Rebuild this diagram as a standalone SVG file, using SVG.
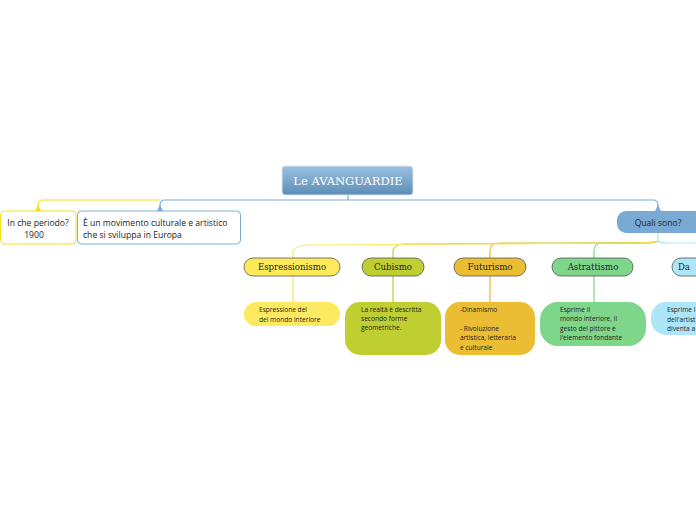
<svg xmlns="http://www.w3.org/2000/svg" width="696" height="520" viewBox="0 0 696 520">
<defs>
<linearGradient id="rootg" x1="0" y1="0" x2="0" y2="1">
<stop offset="0" stop-color="#9cc1df"/>
<stop offset="1" stop-color="#5d8db8"/>
</linearGradient>
</defs>
<style>
.conn{fill:none;stroke-width:1.2}
.l1{fill:#fff;stroke-width:1}
.t1{font-family:"Open Sans","DejaVu Sans",sans-serif;font-size:8.6px;fill:#222}
.l2{stroke:#555;stroke-width:0.8}
.t2{font-family:"DejaVu Serif","Liberation Serif",serif;font-size:8.6px;fill:#222;text-anchor:middle}
.t3{font-family:"Open Sans","DejaVu Sans",sans-serif;font-size:6.6px;fill:#222}
</style>
<rect width="696" height="520" fill="#fff"/>
<g id="connectors">
<path class="conn" stroke="#f7df1e" d="M160,200 L43,200 Q38,200 38,205 L38,208"/>
<path d="M35,211 L41,211 L38,205 Z" fill="#f7df1e"/>
<path class="conn" stroke="#7aaed6" d="M348,195 L348,200 M348,200 L165,200 Q160,200 160,205 L160,208"/>
<path d="M157,211 L163,211 L160,205 Z" fill="#7aaed6"/>
<path class="conn" stroke="#7aaed6" d="M348,200 L653,200 Q658,200 658,205 L658,208"/>
<path d="M655,211 L661,211 L658,205 Z" fill="#7aaed6"/>
<path class="conn" stroke="#aaf0b8" d="M658,233 L658,241"/>
<path class="conn" stroke="#aee6f9" d="M658,241 Q660,243 670,243 L696,243"/>
<path class="conn" stroke="#7ed68a" d="M658,241 Q656,243 640,243 L602,243 Q594,243 594,251 L594,258"/>
<path class="conn" stroke="#e8b830" d="M658,241 Q656,243 630,243 L500,243 Q490,243 490,251 L490,258"/>
<path class="conn" stroke="#c0cf30" d="M658,241 Q656,243 630,243 L403,244 Q393,245 393,252 L393,258"/>
<path class="conn" stroke="#fbe660" d="M658,241 Q656,243 630,243 L310,245 Q293,246 293,252 L293,258"/>
<path class="conn" stroke="#fbe660" d="M293,276 L293,302"/>
<path class="conn" stroke="#c0cf30" d="M393,276 L393,302"/>
<path class="conn" stroke="#e8b830" d="M490,276 L490,302"/>
<path class="conn" stroke="#7ed68a" d="M594,276 L594,302"/>
</g>
<g id="root">
<rect x="282" y="166" width="131" height="29" rx="3" fill="url(#rootg)" stroke="#d9e6f1" stroke-width="1"/>
<text x="348" y="185" text-anchor="middle" font-family="DejaVu Serif,Liberation Serif,serif" font-size="11.5" fill="#fff">Le AVANGUARDIE</text>
</g>
<g id="periodo">
<rect class="l1" x="0.5" y="211" width="75.5" height="33" rx="4" stroke="#f7df1e"/>
<text class="t1" x="38" y="226" text-anchor="middle">In che periodo?</text>
<text class="t1" x="34" y="238" text-anchor="middle">1900</text>
</g>
<g id="movimento">
<rect class="l1" x="77.5" y="211" width="163" height="33" rx="4" stroke="#7aaed6"/>
<text class="t1" x="83" y="226">È un movimento culturale e artistico</text>
<text class="t1" x="83" y="238">che si sviluppa in Europa</text>
</g>
<g id="quali">
<rect x="617" y="211" width="100" height="22" rx="9" fill="#7aaad4"/>
<text class="t1" x="658" y="225.5" text-anchor="middle">Quali sono?</text>
</g>
<g id="espressionismo">
<rect class="l2" x="244" y="258" width="96" height="18" rx="9" fill="#fde95a"/>
<text class="t2" x="292" y="270">Espressionismo</text>
</g>
<g id="cubismo">
<rect class="l2" x="362" y="258" width="62" height="18" rx="9" fill="#bfcf32"/>
<text class="t2" x="393" y="270">Cubismo</text>
</g>
<g id="futurismo">
<rect class="l2" x="454" y="258" width="72" height="18" rx="9" fill="#ebbd33"/>
<text class="t2" x="490" y="270">Futurismo</text>
</g>
<g id="astrattismo">
<rect class="l2" x="552" y="258" width="81" height="18" rx="9" fill="#7ed68a"/>
<text class="t2" x="593" y="270">Astrattismo</text>
</g>
<g id="dadaismo">
<rect class="l2" x="672" y="258" width="80" height="18" rx="9" fill="#aee6f9"/>
<text class="t2" x="684" y="270" text-anchor="start">Da</text>
</g>
<g id="espr-desc">
<rect x="244" y="302" width="96" height="24" rx="12" fill="#fdea60"/>
<text class="t3" x="259" y="311.5">Espressione del</text>
<text class="t3" x="259" y="321.5">del mondo interiore</text>
</g>
<g id="cub-desc">
<rect x="345" y="302" width="96" height="53" rx="15" fill="#bfcf32"/>
<text class="t3" x="361" y="311.5">La realtà è descritta</text>
<text class="t3" x="361" y="320.5">secondo forme</text>
<text class="t3" x="361" y="329.5">geometriche.</text>
</g>
<g id="fut-desc">
<rect x="445" y="302" width="90" height="53" rx="15" fill="#ebbd33"/>
<text class="t3" x="460" y="311.5">-Dinamismo</text>
<text class="t3" x="460" y="330.5">- Rivoluzione</text>
<text class="t3" x="460" y="340">artistica, letteraria</text>
<text class="t3" x="460" y="349.5">e culturale</text>
</g>
<g id="astr-desc">
<rect x="540" y="302" width="106" height="44" rx="18" fill="#7ed68a"/>
<text class="t3" x="560" y="311.5">Esprime il</text>
<text class="t3" x="560" y="321">mondo interiore, il</text>
<text class="t3" x="560" y="330.5">gesto del pittore è</text>
<text class="t3" x="560" y="340">l'elemento fondante</text>
</g>
<g id="dada-desc">
<rect x="651" y="302" width="100" height="33" rx="15" fill="#aee6f9"/>
<text class="t3" x="667" y="312">Esprime l</text>
<text class="t3" x="667" y="321.5">dell'artist</text>
<text class="t3" x="667" y="331">diventa a</text>
</g>
</svg>
